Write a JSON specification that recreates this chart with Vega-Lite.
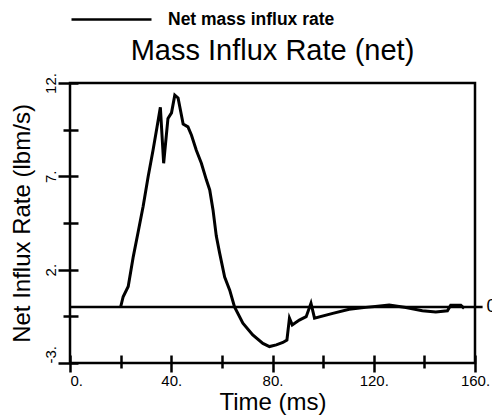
{
  "$schema": "https://vega.github.io/schema/vega-lite/v6.json",
  "width": 405,
  "height": 280,
  "autosize": {"type": "none"},
  "padding": {"left": 70, "top": 83, "right": 17, "bottom": 57},
  "background": "white",
  "config": {"font": "Liberation Sans", "view": {"stroke": "black", "strokeWidth": 2.5}},
  "title": {"text": "Mass Influx Rate (net)", "fontSize": 29, "fontWeight": "normal", "anchor": "middle", "baseline": "alphabetic", "offset": 0, "dy": 111, "color": "black", "font": "Liberation Sans"},
  "layer": [
    {
      "data": {"values": [{}]},
      "mark": {"type": "rule", "color": "black", "strokeWidth": 2.5, "clip": false},
      "encoding": {
        "x": {"datum": 0, "type": "quantitative"},
        "x2": {"datum": 163},
        "y": {"datum": 0, "type": "quantitative"}
      }
    },
    {
      "data": {"values": [{}]},
      "mark": {"type": "text", "align": "left", "baseline": "middle", "dx": 4, "fontSize": 18, "color": "black", "clip": false},
      "encoding": {
        "x": {"datum": 163, "type": "quantitative"},
        "y": {"datum": 0, "type": "quantitative"},
        "text": {"value": "0"}
      }
    },
    {
      "data": {"values": [
        {"t": 20.0, "v": 0},
        {"t": 21.0, "v": 0.55},
        {"t": 23.0, "v": 1.1},
        {"t": 25.0, "v": 2.7},
        {"t": 26.9, "v": 4.0},
        {"t": 28.9, "v": 5.4},
        {"t": 30.9, "v": 7.0},
        {"t": 32.8, "v": 8.4},
        {"t": 34.4, "v": 9.65},
        {"t": 35.7, "v": 10.7},
        {"t": 37.0, "v": 7.7},
        {"t": 38.7, "v": 10.1},
        {"t": 40.1, "v": 10.4},
        {"t": 41.4, "v": 11.35},
        {"t": 42.7, "v": 11.2},
        {"t": 44.7, "v": 9.8},
        {"t": 46.6, "v": 9.65},
        {"t": 48.0, "v": 9.2},
        {"t": 49.9, "v": 8.4},
        {"t": 51.9, "v": 7.7},
        {"t": 53.9, "v": 6.8},
        {"t": 55.2, "v": 6.27},
        {"t": 56.5, "v": 5.2},
        {"t": 57.8, "v": 3.8},
        {"t": 59.1, "v": 2.9},
        {"t": 61.1, "v": 1.6},
        {"t": 63.1, "v": 0.9},
        {"t": 65.0, "v": 0.0},
        {"t": 68.3, "v": -0.87},
        {"t": 72.2, "v": -1.5},
        {"t": 76.2, "v": -1.95},
        {"t": 78.8, "v": -2.12},
        {"t": 81.5, "v": -2.03},
        {"t": 84.1, "v": -1.9},
        {"t": 85.7, "v": -1.77},
        {"t": 86.7, "v": -0.6},
        {"t": 87.8, "v": -0.96},
        {"t": 90.6, "v": -0.7},
        {"t": 93.3, "v": -0.52},
        {"t": 95.2, "v": 0.2},
        {"t": 96.6, "v": -0.6},
        {"t": 103.8, "v": -0.34},
        {"t": 110.3, "v": -0.12},
        {"t": 116.9, "v": -0.02},
        {"t": 126.1, "v": 0.1},
        {"t": 132.7, "v": -0.03},
        {"t": 139.2, "v": -0.2},
        {"t": 144.5, "v": -0.27},
        {"t": 149.1, "v": -0.2},
        {"t": 150.4, "v": 0.1},
        {"t": 154.4, "v": 0.1},
        {"t": 155.7, "v": -0.07}
      ]},
      "mark": {"type": "line", "strokeWidth": 3},
      "encoding": {
        "x": {
          "field": "t", "type": "quantitative",
          "scale": {"domain": [0, 160], "nice": false, "zero": false},
          "axis": {
            "values": [0, 20, 40, 60, 80, 100, 120, 140, 160],
            "labelExpr": "datum.value % 40 == 0 ? datum.value + '.' : ''",
            "domain": false,
            "grid": false,
            "offset": -8,
            "tickSize": {"condition": {"test": "datum.value % 40 == 0", "value": 17}, "value": 13},
            "tickWidth": 2.5,
            "tickColor": "black",
            "labelFontSize": 15,
            "labelColor": "black",
            "labelPadding": 1,
            "labelFlush": false,
            "labelOverlap": false,
            "labelAlign": {"condition": {"test": "datum.value == 0", "value": "left"}, "value": "center"},
            "title": "Time (ms)",
            "titleFontSize": 24,
            "titleFontWeight": "normal",
            "titleColor": "black",
            "titlePadding": 2
          }
        },
        "y": {
          "field": "v", "type": "quantitative",
          "scale": {"domain": [-3, 12], "nice": false, "zero": false},
          "axis": {
            "values": [-3, -0.5, 2, 4.5, 7, 9.5, 12],
            "labelExpr": "indexof([-3, 2, 7, 12], datum.value) >= 0 ? datum.value + '.' : ''",
            "domain": false,
            "grid": false,
            "offset": -8,
            "tickSize": {"condition": {"test": "indexof([-3, 2, 7, 12], datum.value) >= 0", "value": 20}, "value": 15},
            "tickWidth": 2.5,
            "tickColor": "black",
            "labelAngle": -90,
            "labelAlign": {"condition": {"test": "datum.value == -3", "value": "left"}, "value": "center"},
            "labelBaseline": "alphabetic",
            "labelFontSize": 15,
            "labelColor": "black",
            "labelPadding": 3,
            "labelFlush": false,
            "labelOverlap": false,
            "title": "Net Influx Rate (lbm/s)",
            "titleFontSize": 24,
            "titleFontWeight": "normal",
            "titleColor": "black",
            "titlePadding": 9
          }
        },
        "color": {
          "datum": "Net mass influx rate",
          "scale": {"range": ["black"]},
          "legend": {
            "orient": "none",
            "legendX": 0,
            "legendY": -105,
            "title": null,
            "symbolType": "stroke",
            "symbolSize": 6400,
            "symbolStrokeWidth": 2.5,
            "symbolStrokeColor": "black",
            "labelFontWeight": "bold",
            "labelFontSize": 17.5,
            "labelLimit": 400,
            "labelColor": "black",
            "labelOffset": 15,
            "padding": 0
          }
        }
      }
    }
  ]
}
